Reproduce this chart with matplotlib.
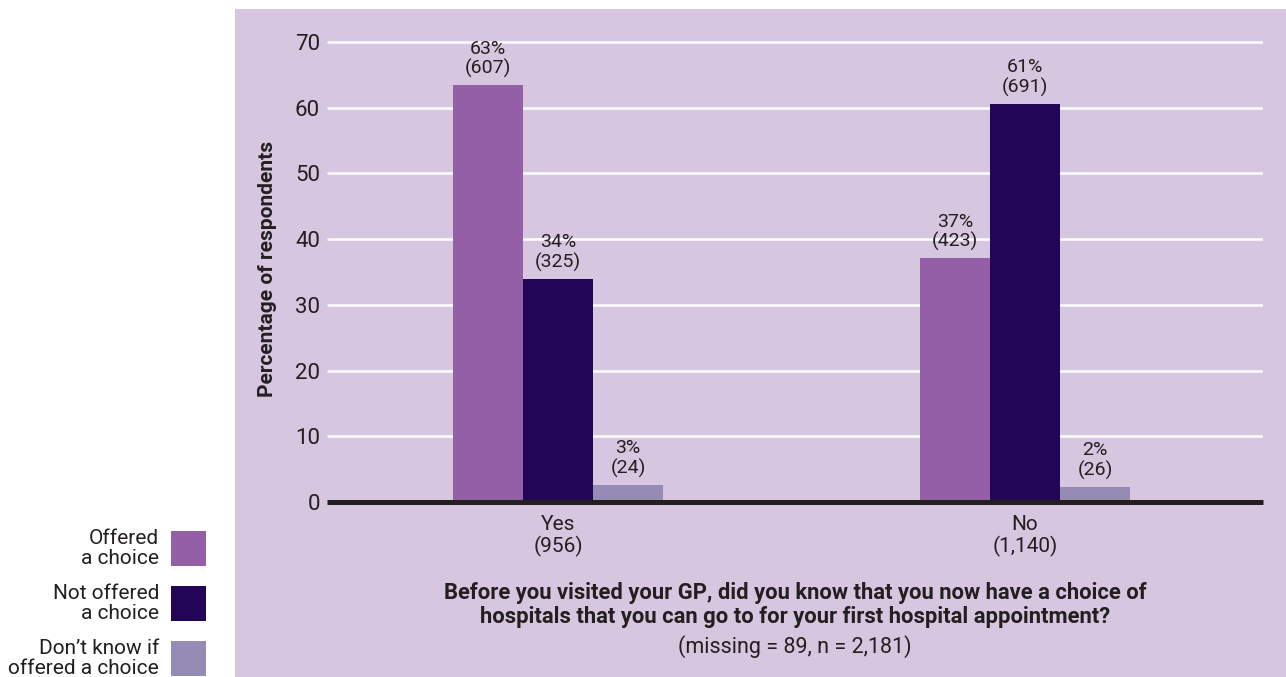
import matplotlib.pyplot as plt
import numpy as np
from matplotlib.patches import Rectangle
from matplotlib import rcParams

rcParams['font.family'] = ['Roboto', 'DejaVu Sans']

# survey answers (percent of respondents) and counts per answer group
groups = ["Yes\n(956)", "No\n(1,140)"]
series_names = ["Offered\na choice", "Not offered\na choice", "Don\u2019t know if\noffered a choice"]
offered_pct = [63.4, 37.1]
not_offered_pct = [34.0, 60.6]
dont_know_pct = [2.6, 2.3]
offered_n = [607, 423]
not_offered_n = [325, 691]
dont_know_n = [24, 26]

colors = ["#945fa6", "#230557", "#958cb5"]
bg = "#d7c6e0"
ink = "#231f20"

fig = plt.figure(figsize=(12.86, 6.77), dpi=100)
fig.patch.set_facecolor("white")
fig.patches.append(Rectangle((235 / 1286, 0), 1 - 235 / 1286, (677 - 9) / 677,
                             transform=fig.transFigure, facecolor=bg, edgecolor="none", zorder=-5))

ax = fig.add_axes([327 / 1286, (677 - 502) / 677, (1263 - 327) / 1286, 466.6 / 677])
ax.set_facecolor("none")
ax.set_zorder(2)

x = np.arange(len(groups))
w = 0.15
all_pct = [offered_pct, not_offered_pct, dont_know_pct]
all_n = [offered_n, not_offered_n, dont_know_n]
for i, (pct, n) in enumerate(zip(all_pct, all_n)):
    xs = x + (i - 1) * w
    ax.bar(xs, pct, width=w, color=colors[i], zorder=3)
    for xi, p, c in zip(xs, pct, n):
        ax.annotate(f"{p:.0f}%\n({c})", (xi, p), xytext=(0, 5), textcoords="offset points",
                    ha="center", va="bottom", fontsize=14, color=ink, linespacing=1.1)

ax.set_ylim(0, 71)
ax.set_xlim(-0.495, 1.51)
ax.set_yticks(range(0, 71, 10))
for yv in range(10, 71, 10):
    ax.axhline(yv, color="white", lw=1.8, zorder=1, solid_capstyle="butt")
ax.axhline(0, color=ink, lw=3.6, zorder=4, clip_on=False, solid_capstyle="butt")
for s in ax.spines.values():
    s.set_visible(False)
ax.tick_params(axis="y", length=0, pad=5, labelsize=16, labelcolor=ink)
ax.tick_params(axis="x", length=0, pad=9, labelsize=15, labelcolor=ink)
ax.set_xticks(x)
ax.set_xticklabels(groups, linespacing=1.15)
ax.set_ylabel("Percentage of respondents", fontsize=15, fontweight="bold", color=ink, labelpad=13)

fig.text(795 / 1286, 1 - 605 / 677,
         "Before you visited your GP, did you know that you now have a choice of\n"
         "hospitals that you can go to for your first hospital appointment?",
         ha="center", va="center", fontsize=15.8, fontweight="bold", color=ink, linespacing=1.15)
fig.text(795 / 1286, 1 - 647 / 677, "(missing = 89, n = 2,181)",
         ha="center", va="center", fontsize=15.5, color=ink)

# legend down the left side
sw = 35
for i, (name, col) in enumerate(zip(series_names, colors)):
    top = 531 + i * 55
    fig.patches.append(Rectangle((171 / 1286, 1 - (top + sw) / 677), sw / 1286, sw / 677,
                                 transform=fig.transFigure, facecolor=col, edgecolor="none"))
    fig.text(159 / 1286, 1 - (top + sw / 2) / 677, name, ha="right", va="center",
             fontsize=15, color=ink, linespacing=1.05)

fig.savefig("out.png", dpi=100)
